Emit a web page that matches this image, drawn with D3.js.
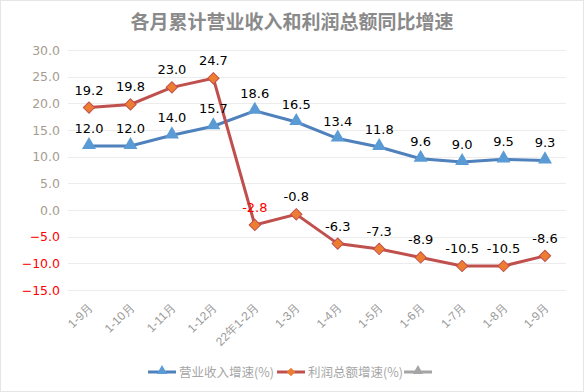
<!DOCTYPE html>
<html>
<head>
<meta charset="utf-8">
<script src="https://cdn.jsdelivr.net/npm/d3@7/dist/d3.min.js"></script>
<style>
  body { margin: 0; background: #fff; }
  svg { display: block; font-family: "Noto Sans CJK SC", "DejaVu Sans", sans-serif; }
</style>
</head>
<body>
<svg id="chart" width="584" height="392"></svg>
<script>
// categories along the x axis
var months = ["1-9月", "1-10月", "1-11月", "1-12月", "22年1-2月", "1-3月", "1-4月", "1-5月", "1-6月", "1-7月", "1-8月", "1-9月"];

// series values (%)
var revenue = [12.0, 12.0, 14.0, 15.7, 18.6, 16.5, 13.4, 11.8, 9.6, 9.0, 9.5, 9.3];
var profit = [19.2, 19.8, 23.0, 24.7, -2.8, -0.8, -6.3, -7.3, -8.9, -10.5, -10.5, -8.6];

// y axis ticks
var yTicks = [30, 25, 20, 15, 10, 5, 0, -5, -10, -15];

var seriesNames = ["营业收入增速(%)", "利润总额增速(%)", ""];

var W = 584, H = 392;
var svg = d3.select("#chart");

// outer frame
svg.append("rect")
    .attr("x", 0.5).attr("y", 0.5)
    .attr("width", W - 1).attr("height", H - 1)
    .attr("fill", "#fff")
    .attr("stroke", "#e6e6e6");

// title
svg.append("text")
    .attr("x", 292).attr("y", 29)
    .attr("text-anchor", "middle")
    .attr("font-size", 19)
    .attr("font-weight", "bold")
    .attr("fill", "#8a8a8a")
    .text("各月累计营业收入和利润总额同比增速");

// scales
var x = d3.scalePoint().domain(d3.range(months.length)).range([89, 545]);
var y = d3.scaleLinear().domain([-15, 30]).range([290, 50]);

// grid lines
svg.append("g").selectAll("line")
    .data(yTicks)
    .enter().append("line")
    .attr("x1", 68).attr("x2", 566)
    .attr("y1", function(d) { return Math.round(y(d)) + 0.5; })
    .attr("y2", function(d) { return Math.round(y(d)) + 0.5; })
    .attr("stroke", "#ececec");

// y axis labels
var yAxis = d3.axisLeft(y).tickValues(yTicks).tickSize(0).tickPadding(0)
    .tickFormat(d3.format(".1f"));
var gy = svg.append("g").attr("transform", "translate(60,0)").call(yAxis);
gy.select(".domain").remove();
gy.selectAll("text")
    .attr("font-size", 12.5)
    .attr("font-family", "DejaVu Sans, sans-serif")
    .attr("fill", function(d) { return d < 0 ? "#ff0000" : "#a89c90"; });

// x axis labels, rotated
var xAxis = d3.axisBottom(x).tickSize(0).tickFormat(function(i) { return months[i]; });
var gx = svg.append("g").attr("transform", "translate(0,294)").call(xAxis);
gx.select(".domain").remove();
gx.selectAll("text")
    .attr("font-size", 12)
    .attr("fill", "#9a9a9a")
    .attr("text-anchor", "end")
    .attr("dy", "0.35em")
    .attr("transform", "translate(-1,9) rotate(-45)");

var line = d3.line()
    .x(function(d, i) { return x(i); })
    .y(function(d) { return y(d); });

// revenue line (blue, triangles)
svg.append("path")
    .datum(revenue)
    .attr("fill", "none")
    .attr("stroke", "#4f81bd")
    .attr("stroke-width", 3)
    .attr("d", line);

var tri = d3.symbol().type(d3.symbolTriangle).size(85);
svg.append("g").selectAll("path")
    .data(revenue)
    .enter().append("path")
    .attr("d", tri)
    .attr("fill", "#5b9bd5")
    .attr("transform", function(d, i) { return "translate(" + x(i) + "," + (y(d) - 1) + ")"; });

// profit line (red, diamonds)
svg.append("path")
    .datum(profit)
    .attr("fill", "none")
    .attr("stroke", "#c0504d")
    .attr("stroke-width", 3)
    .attr("d", line);

svg.append("g").selectAll("rect")
    .data(profit)
    .enter().append("rect")
    .attr("x", -4).attr("y", -4)
    .attr("width", 8).attr("height", 8)
    .attr("fill", "#ed7d31")
    .attr("stroke", "#c0504d")
    .attr("stroke-width", 1)
    .attr("transform", function(d, i) { return "translate(" + x(i) + "," + y(d) + ") rotate(45)"; });

// data labels
svg.append("g").selectAll("text")
    .data(revenue)
    .enter().append("text")
    .attr("x", function(d, i) { return x(i); })
    .attr("y", function(d) { return y(d) - 13; })
    .attr("text-anchor", "middle")
    .attr("font-size", 13)
    .attr("font-family", "DejaVu Sans, sans-serif")
    .attr("fill", "#000")
    .text(function(d) { return d.toFixed(1); });

svg.append("g").selectAll("text")
    .data(profit)
    .enter().append("text")
    .attr("x", function(d, i) { return x(i); })
    .attr("y", function(d) { return y(d) - 13; })
    .attr("text-anchor", "middle")
    .attr("font-size", 13)
    .attr("font-family", "DejaVu Sans, sans-serif")
    .attr("fill", function(d, i) { return i == 4 ? "#ff0000" : "#000"; })
    .text(function(d) { return d.toFixed(1); });

// legend
var lg = svg.append("g").attr("transform", "translate(0,372)");
var legendItems = [
    {x: 148, color: "#4f81bd", mark: "tri", fill: "#5b9bd5", text: seriesNames[0]},
    {x: 277, color: "#c0504d", mark: "dia", fill: "#ed7d31", text: seriesNames[1]},
    {x: 404, color: "#a5a5a5", mark: "tri", fill: "#a5a5a5", text: seriesNames[2]}
];
legendItems.forEach(function(it) {
    lg.append("line")
        .attr("x1", it.x).attr("x2", it.x + 28)
        .attr("y1", 0).attr("y2", 0)
        .attr("stroke", it.color).attr("stroke-width", 3);
    if (it.mark == "tri") {
        lg.append("path")
            .attr("d", d3.symbol().type(d3.symbolTriangle).size(45))
            .attr("fill", it.fill)
            .attr("transform", "translate(" + (it.x + 14) + ",-1)");
    } else {
        lg.append("rect")
            .attr("x", -3).attr("y", -3).attr("width", 6).attr("height", 6)
            .attr("fill", it.fill)
            .attr("transform", "translate(" + (it.x + 14) + ",0) rotate(45)");
    }
    lg.append("text")
        .attr("x", it.x + 31).attr("y", 4.5)
        .attr("font-size", 12.5)
        .attr("fill", "#a6a6a6")
        .text(it.text);
});
</script>
</body>
</html>
